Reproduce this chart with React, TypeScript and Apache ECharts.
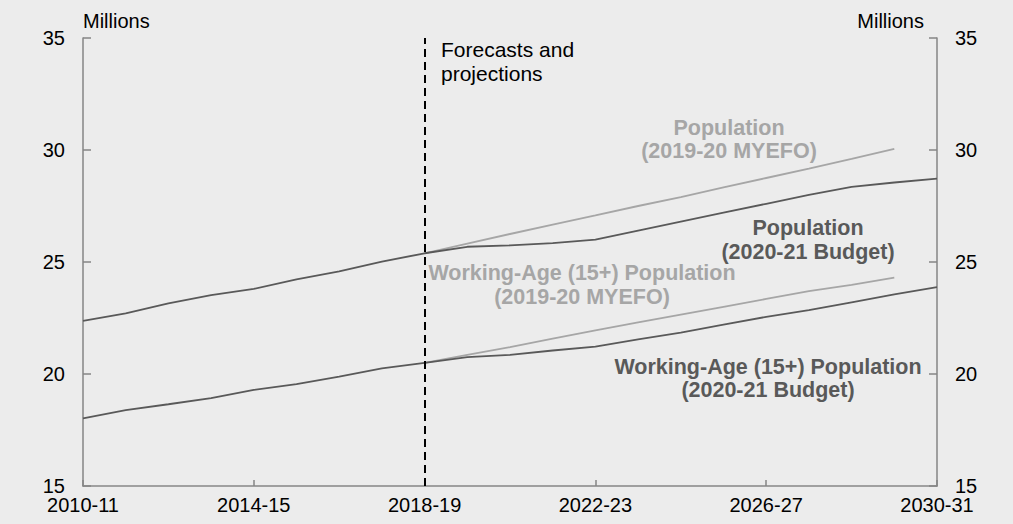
import React, { useEffect, useRef } from "react";
import * as echarts from "echarts";

const categories = [
  "2010-11", "2011-12", "2012-13", "2013-14", "2014-15", "2015-16", "2016-17",
  "2017-18", "2018-19", "2019-20", "2020-21", "2021-22", "2022-23", "2023-24",
  "2024-25", "2025-26", "2026-27", "2027-28", "2028-29", "2029-30", "2030-31",
];

const popBudget = [
  22.37, 22.71, 23.15, 23.52, 23.8, 24.22, 24.58, 25.02, 25.39, 25.68, 25.74,
  25.84, 26.0, 26.4, 26.8, 27.2, 27.6, 28.0, 28.35, 28.55, 28.72,
];
const popMyefo = [
  null, null, null, null, null, null, null, null, 25.39, 25.82, 26.25, 26.67,
  27.08, 27.5, 27.9, 28.33, 28.75, 29.17, 29.6, 30.05,
];
const waBudget = [
  18.02, 18.39, 18.65, 18.92, 19.29, 19.55, 19.88, 20.25, 20.5, 20.75, 20.85,
  21.05, 21.22, 21.55, 21.85, 22.2, 22.55, 22.85, 23.2, 23.55, 23.88,
];
const waMyefo = [
  null, null, null, null, null, null, null, null, 20.5, 20.85, 21.2, 21.58,
  21.95, 22.3, 22.65, 23.0, 23.35, 23.7, 23.98, 24.3,
];

const yTicks = { min: 15, max: 35, interval: 5 };
const forecastStart = "2018-19";

const DARK = "#595959";
const LIGHT = "#a6a6a6";
const AXIS = "#868686";
const FONT = "'Liberation Sans', Arial, Helvetica, sans-serif";

export default function App() {
  const ref = useRef<HTMLDivElement>(null);
  useEffect(() => {
    document.body.style.margin = "0";
    if (!ref.current) return;
    const chart = echarts.init(ref.current, null, { renderer: "svg" });
    const yAxisBase = {
      type: "value",
      min: yTicks.min,
      max: yTicks.max,
      interval: yTicks.interval,
      axisLine: { show: true, lineStyle: { color: AXIS, width: 1.5 } },
      axisTick: { show: true, inside: true, length: 8, lineStyle: { color: AXIS, width: 1.5 } },
      splitLine: { show: false },
      axisLabel: { color: "#000", fontSize: 20, lineHeight: 15, fontFamily: FONT, margin: 18 },
    };
    const lbl = (text: string, x: number, top: number, color: string, lh: number) => ({
      type: "text",
      x,
      y: top,
      silent: true,
      style: {
        text,
        fill: color,
        fontSize: 21.5,
        fontWeight: "bold",
        fontFamily: FONT,
        align: "center",
        verticalAlign: "top",
        lineHeight: lh,
      },
    });
    chart.setOption({
      animation: false,
      backgroundColor: "#ececec",
      grid: { left: 83, right: 76, top: 38, bottom: 38, containLabel: false },
      xAxis: {
        type: "category",
        data: categories,
        boundaryGap: false,
        axisLine: { show: true, lineStyle: { color: AXIS, width: 1.5 } },
        axisTick: { show: true, inside: true, length: 6, interval: 3, lineStyle: { color: AXIS, width: 1.5 } },
        axisLabel: { interval: 3, color: "#000", fontSize: 20, lineHeight: 18, fontFamily: FONT, margin: 10 },
        splitLine: { show: false },
      },
      yAxis: [
        { ...yAxisBase, position: "left" },
        { ...yAxisBase, position: "right" },
      ],
      series: [
        {
          type: "line",
          data: popMyefo,
          showSymbol: false,
          lineStyle: { color: LIGHT, width: 1.8 },
          itemStyle: { color: LIGHT },
        },
        {
          type: "line",
          data: waMyefo,
          showSymbol: false,
          lineStyle: { color: LIGHT, width: 1.8 },
          itemStyle: { color: LIGHT },
        },
        {
          type: "line",
          data: popBudget,
          showSymbol: false,
          lineStyle: { color: DARK, width: 1.8 },
          itemStyle: { color: DARK },
          markLine: {
            silent: true,
            symbol: "none",
            label: { show: false },
            lineStyle: { color: "#000", type: [8, 5], width: 2 },
            data: [{ xAxis: forecastStart }],
          },
        },
        {
          type: "line",
          data: waBudget,
          showSymbol: false,
          lineStyle: { color: DARK, width: 1.8 },
          itemStyle: { color: DARK },
        },
      ],
      graphic: [
        {
          type: "text",
          x: 83,
          y: 21,
          silent: true,
          style: { text: "Millions", fill: "#000", fontSize: 20, fontFamily: FONT, align: "left", verticalAlign: "middle" },
        },
        {
          type: "text",
          x: 924,
          y: 21,
          silent: true,
          style: { text: "Millions", fill: "#000", fontSize: 20, fontFamily: FONT, align: "right", verticalAlign: "middle" },
        },
        {
          type: "text",
          x: 441,
          y: 37,
          silent: true,
          style: {
            text: "Forecasts and\nprojections",
            fill: "#000",
            fontSize: 21,
            fontFamily: FONT,
            align: "left",
            verticalAlign: "top",
            lineHeight: 24,
          },
        },
        lbl("Population\n(2019-20 MYEFO)", 729, 116.5, LIGHT, 23),
        lbl("Population\n(2020-21 Budget)", 808, 216, DARK, 24),
        lbl("Working-Age (15+) Population\n(2019-20 MYEFO)", 582, 261.5, LIGHT, 23.5),
        lbl("Working-Age (15+) Population\n(2020-21 Budget)", 768, 355.5, DARK, 23),
      ],
    });
    return () => chart.dispose();
  }, []);
  return <div ref={ref} style={{ width: 1013, height: 524 }} />;
}
